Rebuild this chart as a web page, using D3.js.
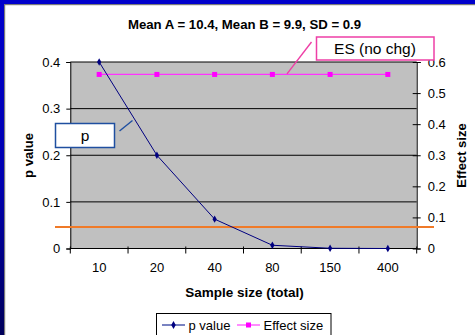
<!DOCTYPE html>
<html>
<head>
<meta charset="utf-8">
<script src="https://cdn.jsdelivr.net/npm/d3@7"></script>
<style>
  html, body { margin: 0; padding: 0; background: #fff; }
  svg { display: block; font-family: Arial, "Liberation Sans", sans-serif; }
</style>
</head>
<body>
<svg id="chart" width="475" height="335"></svg>
<script>
// Sample sizes (categories) and the two series
const sampleSizes = ["10", "20", "40", "80", "150", "400"];
const pValues = [0.4, 0.2, 0.063, 0.007, 0.0005, 0.0];
const effectSizes = [0.56, 0.56, 0.56, 0.56, 0.56, 0.56];
const pTicks = [0, 0.1, 0.2, 0.3, 0.4];
const esTicks = [0, 0.1, 0.2, 0.3, 0.4, 0.5, 0.6];
const alphaLine = 0.046;   // significance reference line

(function () {
const svg = d3.select("#chart");
const W = 475, H = 335;

// slide frame: blue band on top and left edge with a grey shadow
const defs = svg.append("defs");
const grad = defs.append("linearGradient").attr("id", "leftBand")
  .attr("x1", 0).attr("y1", 0).attr("x2", 0).attr("y2", 1);
grad.append("stop").attr("offset", "0%").attr("stop-color", "#0000cc");
grad.append("stop").attr("offset", "55%").attr("stop-color", "#0000b0");
grad.append("stop").attr("offset", "100%").attr("stop-color", "#00005a");

svg.append("rect").attr("x", 0).attr("y", 0).attr("width", W).attr("height", 4).attr("fill", "#0000cc");
svg.append("rect").attr("x", 0).attr("y", 0).attr("width", 4).attr("height", H).attr("fill", "url(#leftBand)");
svg.append("rect").attr("x", 4).attr("y", 4).attr("width", W - 4).attr("height", 1.2).attr("fill", "#7a7a7a");
svg.append("rect").attr("x", 4).attr("y", 4).attr("width", 1.2).attr("height", H - 4).attr("fill", "#7a7a7a");

// plot area
const pl = 70.3, pr = 416.7, pt = 62, pb = 248.5;

const x = d3.scaleBand().domain(sampleSizes).range([pl, pr]).padding(0);
const xc = d => x(d) + x.bandwidth() / 2;
const yP = d3.scaleLinear().domain([0, 0.4]).range([pb, pt]);
const yE = d3.scaleLinear().domain([0, 0.6]).range([pb, pt]);

svg.append("rect").attr("x", pl).attr("y", pt)
  .attr("width", pr - pl).attr("height", pb - pt)
  .attr("fill", "#c0c0c0");

// horizontal gridlines
svg.append("g").selectAll("line").data(pTicks.filter(t => t > 0)).join("line")
  .attr("x1", pl).attr("x2", pr)
  .attr("y1", d => yP(d)).attr("y2", d => yP(d))
  .attr("stroke", "#000").attr("stroke-width", 1);

// left axis
const axL = svg.append("g").attr("transform", `translate(${pl},0)`)
  .call(d3.axisLeft(yP).tickValues(pTicks).tickFormat(d => d === 0 ? "0" : d3.format(".1f")(d)).tickSizeOuter(0).tickSize(4).tickPadding(6));
// right axis
const axR = svg.append("g").attr("transform", `translate(${pr},0)`)
  .call(d3.axisRight(yE).tickValues(esTicks).tickFormat(d => d === 0 ? "0" : d3.format(".1f")(d)).tickSizeOuter(0).tickSize(4).tickPadding(7));
axR.selectAll(".tick line").attr("x1", -4);
// bottom axis with ticks at category boundaries
const axB = svg.append("g").attr("transform", `translate(0,${pb})`)
  .call(d3.axisBottom(x).tickSize(0).tickPadding(14));
axB.select(".domain").attr("d", `M${pl},0H${pr}`);
const bounds = sampleSizes.map(d => x(d)).concat([pr]);
axB.selectAll("line.sep").data(bounds).join("line").attr("class", "sep")
  .attr("x1", d => d).attr("x2", d => d).attr("y1", -2).attr("y2", 5)
  .attr("stroke", "#000");

[axL, axR, axB].forEach(a => {
  a.selectAll("text").attr("font-size", 13).attr("fill", "#000")
    .attr("font-family", "Arial, 'Liberation Sans', sans-serif");
  a.selectAll(".domain").attr("stroke", "#000");
  a.selectAll(".tick line").attr("stroke", "#000");
});

// orange significance line, drawn across and beyond the plot
svg.append("line")
  .attr("x1", 55).attr("x2", 434)
  .attr("y1", yP(alphaLine)).attr("y2", yP(alphaLine))
  .attr("stroke", "#f07a28").attr("stroke-width", 2);

// effect size series
svg.append("path").datum(effectSizes)
  .attr("d", d3.line().x((d, i) => xc(sampleSizes[i])).y(d => yE(d)))
  .attr("fill", "none").attr("stroke", "#ff33ff").attr("stroke-width", 1.3);
svg.append("g").selectAll("rect").data(effectSizes).join("rect")
  .attr("x", (d, i) => xc(sampleSizes[i]) - 2.5).attr("y", d => yE(d) - 2.5)
  .attr("width", 5).attr("height", 5).attr("fill", "#ff00ff");

// p value series
svg.append("path").datum(pValues)
  .attr("d", d3.line().x((d, i) => xc(sampleSizes[i])).y(d => yP(d)))
  .attr("fill", "none").attr("stroke", "#000080").attr("stroke-width", 1);
svg.append("g").selectAll("path.pt").data(pValues).join("path").attr("class", "pt")
  .attr("d", d3.symbol(d3.symbolDiamond, 16))
  .attr("transform", (d, i) => `translate(${xc(sampleSizes[i])},${yP(d)})`)
  .attr("fill", "#000080");

// title
svg.append("text").attr("x", 244.5).attr("y", 28.5).attr("text-anchor", "middle")
  .attr("font-size", 13.2).attr("font-weight", "bold").text("Mean A = 10.4, Mean B = 9.9, SD = 0.9");

// axis titles
svg.append("text").attr("x", 244.5).attr("y", 296.5).attr("text-anchor", "middle")
  .attr("font-size", 13.5).attr("font-weight", "bold").text("Sample size (total)");
svg.append("text").attr("transform", "translate(32.5,155.5) rotate(-90)").attr("text-anchor", "middle")
  .attr("font-size", 13).attr("font-weight", "bold").text("p value");
svg.append("text").attr("transform", "translate(466,155.5) rotate(-90)").attr("text-anchor", "middle")
  .attr("font-size", 13).attr("font-weight", "bold").text("Effect size");

// callout: ES (no chg)
svg.append("line").attr("x1", 311.5).attr("y1", 42).attr("x2", 287).attr("y2", yE(effectSizes[3]) - 0.5)
  .attr("stroke", "#ee3fa6").attr("stroke-width", 1.4);
svg.append("rect").attr("x", 316.5).attr("y", 37).attr("width", 117.5).attr("height", 23)
  .attr("fill", "#fff").attr("stroke", "#ee3fa6").attr("stroke-width", 1.5);
svg.append("text").attr("x", 375).attr("y", 54).attr("text-anchor", "middle")
  .attr("font-size", 15.5).text("ES (no chg)");

// callout: p
svg.append("line").attr("x1", 119.5).attr("y1", 131).attr("x2", 132.5).attr("y2", 120.5)
  .attr("stroke", "#1f4fa0").attr("stroke-width", 1.4);
svg.append("rect").attr("x", 55.5).attr("y", 123.5).attr("width", 59).attr("height", 24)
  .attr("fill", "#fff").attr("stroke", "#1f4fa0").attr("stroke-width", 1.5);
svg.append("text").attr("x", 85).attr("y", 140.5).attr("text-anchor", "middle")
  .attr("font-size", 15.5).text("p");

// legend
const lg = svg.append("g");
lg.append("rect").attr("x", 156.5).attr("y", 313.5).attr("width", 174.5).attr("height", 30)
  .attr("fill", "#fff").attr("stroke", "#000").attr("stroke-width", 1);
lg.append("line").attr("x1", 162).attr("x2", 185).attr("y1", 325).attr("y2", 325)
  .attr("stroke", "#3040a0").attr("stroke-width", 1.3);
lg.append("path").attr("d", d3.symbol(d3.symbolDiamond, 18))
  .attr("transform", "translate(173.5,325)").attr("fill", "#000080");
lg.append("text").attr("x", 188.5).attr("y", 329.5).attr("font-size", 13).text("p value");
lg.append("line").attr("x1", 237).attr("x2", 260).attr("y1", 325).attr("y2", 325)
  .attr("stroke", "#ff66ff").attr("stroke-width", 1.5);
lg.append("rect").attr("x", 246).attr("y", 322.5).attr("width", 5).attr("height", 5).attr("fill", "#ff00ff");
lg.append("text").attr("x", 263.5).attr("y", 329.5).attr("font-size", 13).text("Effect size");
})();
</script>
</body>
</html>
